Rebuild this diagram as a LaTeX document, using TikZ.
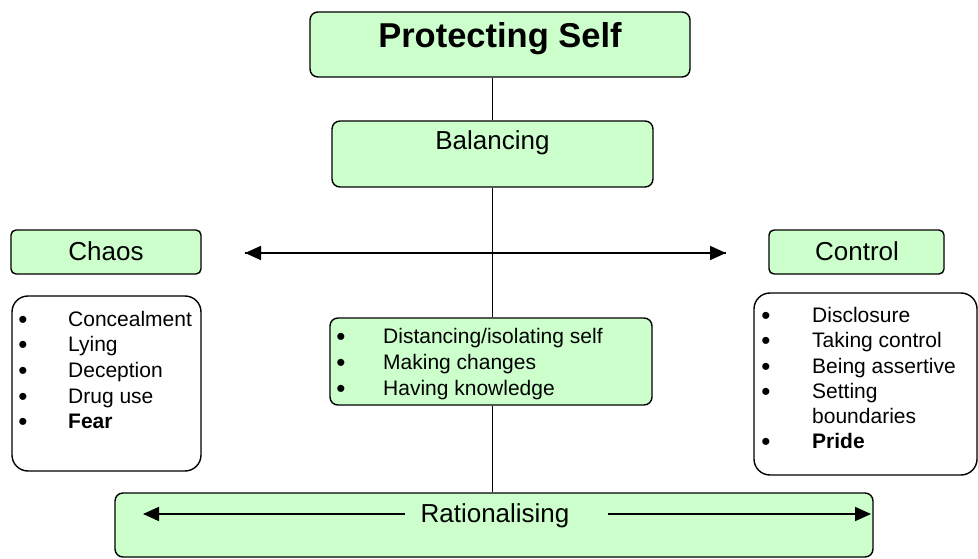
\documentclass[tikz,border=0pt]{standalone}
\usepackage{fontspec}
\setmainfont{Liberation Sans}
\usetikzlibrary{arrows.meta}
\definecolor{boxgreen}{RGB}{204,255,204}
\tikzset{
  greenbox/.style={draw=black, line width=1.4pt, fill=boxgreen, rounded corners=8pt, inner sep=0pt},
  listbox/.style={draw=black, line width=1.4pt, fill=white, rounded corners=16pt, inner sep=0pt},
  head/.style={inner sep=0pt, anchor=base, font=\fontsize{26}{30}\selectfont},
  item/.style={inner sep=0pt, anchor=base west, font=\fontsize{21}{25}\selectfont},
  bullet/.style={inner sep=0pt, anchor=base, yshift=-2pt, font=\fontsize{26}{30}\selectfont},
  link/.style={line width=1.4pt},
  twoway/.style={line width=1.8pt, -{Triangle[length=16pt,width=14pt]}}
}
\begin{document}
\begin{tikzpicture}[x=1pt,y=-1pt]
\useasboundingbox (0,0) rectangle (978,559);

% boxes
\node[greenbox, minimum width=380pt, minimum height=65pt] (protect) at (500,44.5) {};
\node[greenbox, minimum width=321pt, minimum height=66pt] (balance) at (492.5,154) {};
\node[greenbox, rounded corners=5pt, minimum width=190pt, minimum height=44pt] (chaos) at (106,252) {};
\node[greenbox, rounded corners=5pt, minimum width=175pt, minimum height=44pt] (control) at (856.5,252) {};
\node[listbox, minimum width=189pt, minimum height=175pt] (chaoslist) at (106.5,383.5) {};
\node[listbox, minimum width=223pt, minimum height=182pt] (controllist) at (865.5,384) {};
\node[greenbox, minimum width=322pt, minimum height=87pt] (mid) at (491,361.5) {};
\node[greenbox, minimum width=758pt, minimum height=64pt] (rational) at (494,525) {};

% vertical spine
\draw[link] (balance.north |- protect.south) -- (balance.north);
\draw[link] (balance.south) -- (balance.south |- mid.north);
\draw[link] (balance.south |- mid.south) -- (balance.south |- rational.north);

% headings
\node[inner sep=0pt, anchor=base, font=\bfseries\fontsize{34.5}{40}\selectfont] (protecttxt) at (500,48) {Protecting Self};
\node[head] (balancetxt) at (492.5,150) {Balancing};
\node[head] (chaostxt) at (106,260) {Chaos};
\node[head] (controltxt) at (857,260) {Control};
\node[head] (rationaltxt) at (495,522) {Rationalising};

% chaos / control axis
\coordinate (axisL) at (245,253);
\coordinate (axisR) at (726,253);
\draw[twoway] (axisR) -- (axisL);
\draw[twoway] (axisL) -- (axisR);

% rationalising arrows
\coordinate (ratL) at (405,514);
\coordinate (ratLtip) at (143,514);
\coordinate (ratR) at (608,514);
\coordinate (ratRtip) at (871,514);
\draw[twoway] (ratL) -- (ratLtip);
\draw[twoway] (ratR) -- (ratRtip);

% chaos list
\foreach \y [count=\i] in {326, 351.5, 377, 403, 428.5}{
  \node[bullet] (cb\i) at (23,\y) {•};
}
\node[item] (ci1) at (68,326) {Concealment};
\node[item] (ci2) at (68,351.5) {Lying};
\node[item] (ci3) at (68,377) {Deception};
\node[item] (ci4) at (68,403) {Drug use};
\node[item] (ci5) at (68,428.5) {\textbf{Fear}};

% middle list
\foreach \y [count=\i] in {343, 369, 395}{
  \node[bullet] (mb\i) at (341,\y) {•};
}
\node[item] (mi1) at (383,343) {Distancing/isolating self};
\node[item] (mi2) at (383,369) {Making changes};
\node[item] (mi3) at (383,395) {Having knowledge};

% control list
\foreach \y [count=\i] in {322, 347, 373, 398, 448}{
  \node[bullet] (kb\i) at (766,\y) {•};
}
\node[item] (ki1) at (812,322) {Disclosure};
\node[item] (ki2) at (812,347) {Taking control};
\node[item] (ki3) at (812,373) {Being assertive};
\node[item] (ki4) at (812,398) {Setting};
\node[item] (ki5) at (812,423) {boundaries};
\node[item] (ki6) at (812,448) {\textbf{Pride}};
\end{tikzpicture}
\end{document}
